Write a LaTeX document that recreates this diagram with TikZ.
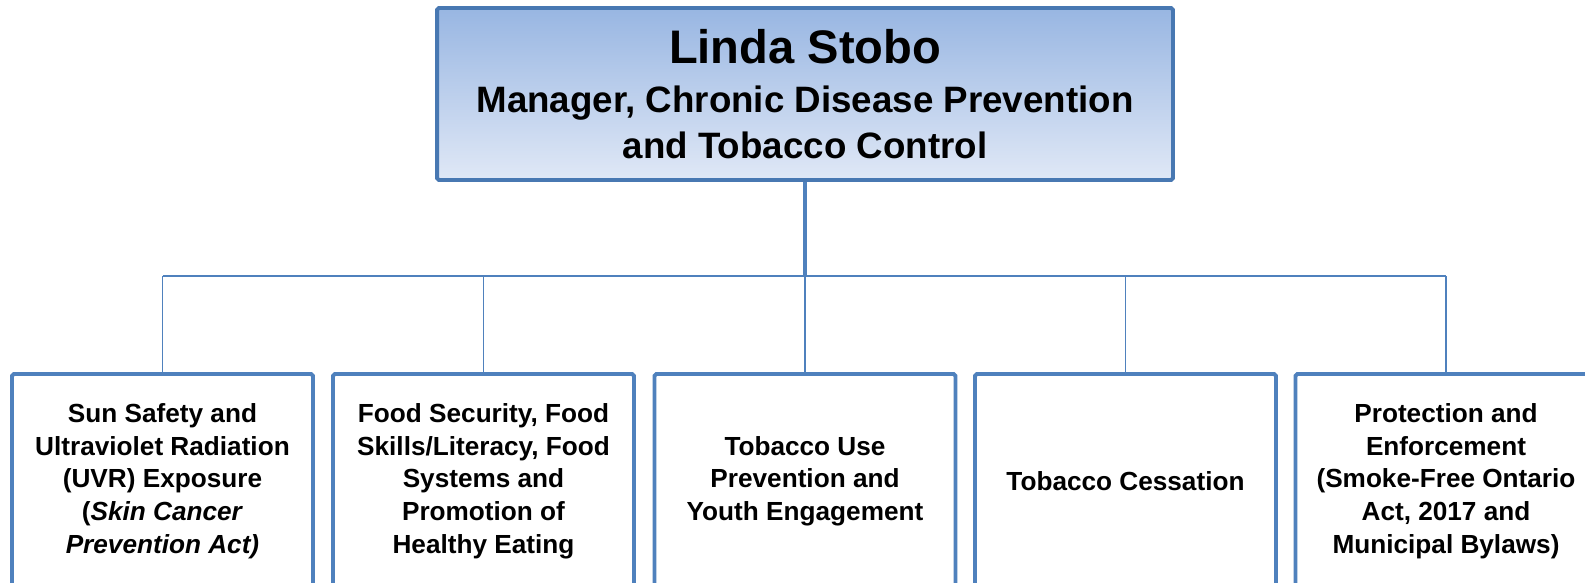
\documentclass[tikz,border=0pt]{standalone}
\usepackage{fontspec}
\setmainfont{Liberation Sans}
\definecolor{boxblue}{RGB}{79,129,189}
\definecolor{headblue}{RGB}{72,120,178}
\definecolor{headtop}{RGB}{152,182,226}
\definecolor{headbottom}{RGB}{224,232,246}
\begin{document}
\begin{tikzpicture}[x=0.02cm,y=-0.02cm,
    head node/.style={draw=headblue,line width=2.2pt,rounded corners=1pt,top color=headtop,bottom color=headbottom,
                      minimum width=14.72cm,minimum height=3.44cm,inner sep=0pt,align=center,
                      font=\fontsize{20.9}{26}\selectfont\bfseries},
    unit node/.style={draw=boxblue,line width=2.2pt,rounded corners=1pt,fill=white,
                      minimum width=6.02cm,minimum height=4.28cm,inner sep=0pt,align=center,
                      font=\fontsize{14.9}{18.6}\selectfont\bfseries},
    trunk/.style={draw=boxblue,line width=2pt},
    link/.style={draw=boxblue,line width=1.1pt}
                   ]
    \useasboundingbox[fill=white] (0,0) rectangle (1585,582);
    \clip (0,0) rectangle (1585,582);
    \node[head node] (lead) at (805,94) {{\fontsize{26.8}{26}\selectfont Linda Stobo}\\[1.8pt]Manager, Chronic Disease Prevention\\and Tobacco Control};
    \node[unit node] (u1) at (162.5,481) {Sun Safety and\\Ultraviolet Radiation\\(UVR) Exposure\\(\textit{Skin Cancer}\\\textit{Prevention Act)}};
    \node[unit node] (u2) at (483.5,481) {Food Security, Food\\Skills/Literacy, Food\\Systems and\\Promotion of\\Healthy Eating};
    \node[unit node] (u3) at (805,481) {Tobacco Use\\Prevention and\\Youth Engagement};
    \node[unit node] (u4) at (1125.5,481) {Tobacco Cessation};
    \node[unit node] (u5) at (1446,481) {Protection and\\Enforcement\\(Smoke-Free Ontario\\Act, 2017 and\\Municipal Bylaws)};
    \coordinate (bus) at (805,276);
    \coordinate (b1) at (162.5,276);
    \coordinate (b2) at (483.5,276);
    \coordinate (b3) at (805,276);
    \coordinate (b4) at (1125.5,276);
    \coordinate (b5) at (1446,276);
    \draw[trunk] (lead) -- (bus);
    \draw[link] (b1) -- (b5);
    \path[link]
      (b1) edge (u1)
      (b2) edge (u2)
      (b3) edge (u3)
      (b4) edge (u4)
      (b5) edge (u5);
\end{tikzpicture}
\end{document}
